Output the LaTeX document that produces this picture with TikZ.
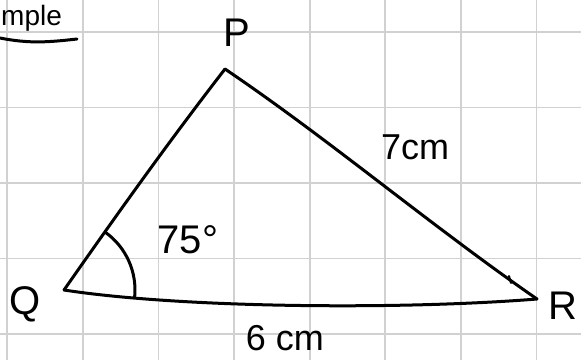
\documentclass[tikz,border=0pt]{standalone}
\usepackage{fontspec}
\setmainfont{Liberation Sans}
\begin{document}
\begin{tikzpicture}[x=1pt,y=-1pt,
  gridline/.style={draw=black!18, line width=1.8pt},
  edge/.style={draw=black, line width=3pt, line cap=round, line join=round},
  lbl/.style={inner sep=0pt, font=\fontsize{40}{44}\selectfont},
  smalllbl/.style={inner sep=0pt, font=\fontsize{36}{40}\selectfont}]
\useasboundingbox (0,0) rectangle (581,360);
\fill[white] (0,0) rectangle (581,360);
% grid
\foreach \gx in {7.3,82.9,158.5,234.1,309.7,385.3,460.9,536.5}
  \draw[gridline] (\gx,0) -- (\gx,360);
\foreach \gy in {32,107.5,183,258.5,334}
  \draw[gridline] (0,\gy) -- (581,\gy);
% title fragment
\node[inner sep=0pt, font=\fontsize{28}{30}\selectfont, anchor=base west] (title) at (1,25) {mple};
\coordinate (ulA) at (0,38);
\coordinate (ulB) at (77,39);
\draw[edge] (ulA) .. controls (30,44) and (50,42) .. (ulB);
% vertices
\coordinate (P) at (225,69);
\coordinate (Q) at (64,290);
\coordinate (R) at (537,299);
% sides
\draw[edge] (P) .. controls (170,140) and (120,210) .. (Q);
\draw[edge] (P) .. controls (330,140) and (430,225) .. (R);
\draw[edge] (Q) .. controls (180,308) and (400,310) .. (R);
% tick near R
\coordinate (tkA) at (509,276);
\coordinate (tkB) at (511,283);
\draw[edge, line width=2pt] (tkA) -- (tkB);
% angle at Q
\draw[edge] (Q) ++(-54:71) arc[start angle=-54, end angle=6, radius=71];
% labels
\node[lbl] (lP) at (237,33) {P};
\node[lbl] (lQ) at (25,304) {Q};
\node[lbl] (lR) at (563,306) {R};
\node[smalllbl] (l7) at (415,147) {7cm};
\node[lbl] (l75) at (188,240) {75°};
\node[smalllbl] (l6) at (285,338) {6 cm};
\end{tikzpicture}
\end{document}
